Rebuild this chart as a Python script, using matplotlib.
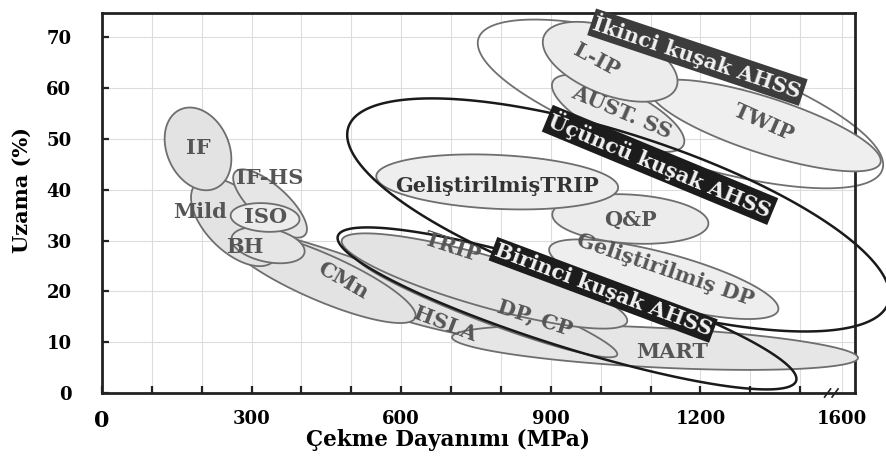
import numpy as np
import matplotlib
matplotlib.use("Agg")
import matplotlib.pyplot as plt
from matplotlib.patches import Polygon

plt.rcParams['font.family'] = ['DejaVu Serif']
plt.rcParams['font.weight'] = 'bold'
plt.rcParams['axes.labelweight'] = 'bold'

# steel grades: ends of each band (tensile strength MPa, elongation %) and half thickness in %
grades = ['HSLA', 'CMn', 'Mild', 'IF-HS', 'BH', 'ISO', 'IF',
          'MART', 'DP, CP', 'TRIP',
          'Geliştirilmiş DP', 'Q&P', 'GeliştirilmişTRIP',
          'TWIP', 'AUST. SS', 'L-IP']
ts_lo = [207, 247, 189, 267, 260, 258, 157,
         702, 507, 481,
         897, 903, 550,
         1099, 904, 886]
el_lo = [32.5, 31.1, 41.3, 43.5, 30.6, 35.0, 55.8,
         11.0, 27.2, 30.1,
         28.5, 35.2, 42.7,
         60.0, 61.3, 70.2]
ts_hi = [794, 628, 345, 407, 406, 396, 228,
         1516, 1033, 1053,
         1356, 1216, 1035,
         1561, 1166, 1152]
el_hi = [11.8, 14.8, 26.0, 31.1, 27.6, 34.1, 40.3,
         6.9, 7.5, 14.0,
         16.3, 33.3, 40.4,
         45.3, 48.8, 60.2]
half = [4.3, 4.6, 5.8, 3.5, 3.3, 2.8, 6.1,
        3.9, 3.3, 5.0,
        5.1, 4.8, 5.3,
        5.5, 4.8, 6.5]
shade = ['#e3e3e3', '#e3e3e3', '#e3e3e3', '#e6e6e6', '#e6e6e6', '#ececec', '#e3e3e3',
         '#e6e6e6', '#e3e3e3', '#e3e3e3',
         '#eeeeee', '#ececec', '#eeeeee',
         '#efefef', '#ececec', '#ececec']

# grade label anchors and angles
lab_ts = [688, 484, 197, 337, 287, 327, 193,
          1143, 869, 702,
          1129, 1059, 792,
          1326, 1043, 991]
lab_el = [13.6, 22.2, 35.6, 42.3, 28.7, 34.6, 48.2,
          8.1, 14.8, 28.7,
          24.2, 34.1, 40.7,
          53.3, 55.3, 65.6]
lab_rot = [-21, -30, 0, 0, 0, 0, 0,
           0, -18, -18,
           -19, 0, 0,
           -24, -23, -28]

# AHSS generation envelopes
gens = ['Birinci kuşak AHSS', 'İkinci kuşak AHSS', 'Üçüncü kuşak AHSS']
gen_ts_lo = [473, 755, 494]
gen_el_lo = [30.9, 69.8, 52.3]
gen_ts_hi = [1392, 1565, 1577]
gen_el_hi = [2.4, 44.0, 17.8]
gen_half = [7.5, 11.0, 15.9]
gen_lab_ts = [1005, 1194, 1119]
gen_lab_el = [20.3, 66.1, 44.9]
gen_lab_rot = [-20.5, -18.5, -22.5]

x_ticks = list(range(0, 1500, 100))
x_labels = {0: '0', 300: '300', 600: '600', 900: '900', 1200: '1200'}
x_break = 1484  # position of the "1600" tick after the axis break
y_ticks = list(range(0, 80, 10))

fig = plt.figure(figsize=(8.86, 4.68), dpi=100)
ax = fig.add_axes([102 / 886, 1 - 393 / 468, 753 / 886, 380 / 468])
ax.set_xlim(0, 1510)
ax.set_ylim(0, 74.8)


def band(x0, y0, x1, y1, h):
    # ellipse between two tips, drawn in screen space so it looks right
    p0 = ax.transData.transform((x0, y0))
    p1 = ax.transData.transform((x1, y1))
    hp = ax.transData.transform((0, h))[1] - ax.transData.transform((0, 0))[1]
    c = (p0 + p1) / 2
    d = p1 - p0
    a = np.hypot(*d) / 2
    u = d / (2 * a)
    v = np.array([-u[1], u[0]])
    t = np.linspace(0, 2 * np.pi, 240)
    pts = c + np.outer(a * np.cos(t), u) + np.outer(hp * np.sin(t), v)
    return ax.transData.inverted().transform(pts)


# second generation outline goes underneath
i = 1
ax.add_patch(Polygon(band(gen_ts_lo[i], gen_el_lo[i], gen_ts_hi[i], gen_el_hi[i], gen_half[i]),
                     closed=True, fc='none', ec='#707070', lw=1.3, clip_on=False, zorder=2))

for k in range(len(grades)):
    ax.add_patch(Polygon(band(ts_lo[k], el_lo[k], ts_hi[k], el_hi[k], half[k]),
                         closed=True, fc=shade[k], ec='#6e6e6e', lw=1.3,
                         clip_on=False, zorder=3 + k * 0.01))
    col = '#333333' if grades[k] == 'GeliştirilmişTRIP' else '#555555'
    ax.text(lab_ts[k], lab_el[k], grades[k], rotation=lab_rot[k], rotation_mode='anchor',
            ha='center', va='center', fontsize=15, color=col, zorder=6)

for i in (0, 2):
    ax.add_patch(Polygon(band(gen_ts_lo[i], gen_el_lo[i], gen_ts_hi[i], gen_el_hi[i], gen_half[i]),
                         closed=True, fc='none', ec='#1a1a1a', lw=1.8, clip_on=False, zorder=5))

for i in range(3):
    fc = '#3c3c3c' if i == 1 else '#1c1c1c'
    ax.text(gen_lab_ts[i], gen_lab_el[i], gens[i], rotation=gen_lab_rot[i], rotation_mode='anchor',
            ha='center', va='center', fontsize=15, color='#f2f2f2', zorder=7,
            bbox=dict(boxstyle='square,pad=0.12', fc=fc, ec='none'))

ax.set_xticks(x_ticks + [x_break])
ax.set_xticklabels([x_labels.get(x, '') for x in x_ticks] + ['1600'])
ax.set_yticks(y_ticks)
ax.tick_params(direction='in', length=5, width=1.6, labelsize=13, color='#222222')
ax.tick_params(axis='x', pad=12)
ax.tick_params(axis='y', pad=22)
ax.xaxis.get_major_ticks()[-1].tick1line.set_visible(False)
ax.get_xticklabels()[0].set_fontsize(16)
ax.grid(True, color='#dddddd', lw=0.8)
ax.set_axisbelow(True)
for s in ax.spines.values():
    s.set_linewidth(2)
    s.set_color('#222222')

# axis break marks
for xb in (1455, 1470):
    ax.plot([xb - 6, xb + 6], [-0.8, 0.8], color='#222222', lw=1.2, clip_on=False, zorder=8)

ax.set_xlabel('Çekme Dayanımı (MPa)', fontsize=15.5, fontweight='bold')
ax.xaxis.set_label_coords(346 / 753, -47 / 380)
ax.xaxis.label.set_va('center')
ax.set_ylabel('Uzama (%)', fontsize=15, fontweight='bold')
ax.yaxis.set_label_coords(-80 / 753, 203 / 380)
ax.yaxis.label.set_va('center')

fig.savefig('out.png', dpi=100)
